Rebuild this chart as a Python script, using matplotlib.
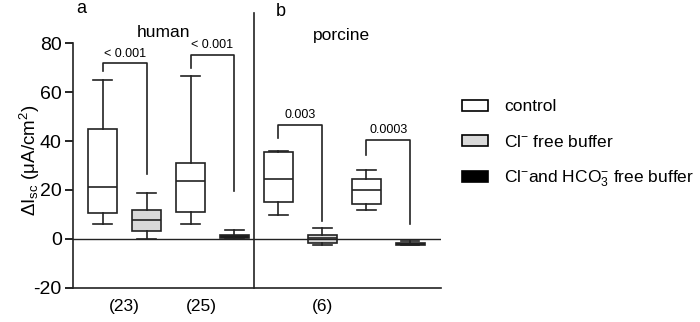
import matplotlib
matplotlib.use('Agg')
import matplotlib.pyplot as plt
from matplotlib.patches import Patch

plt.rcParams['font.family'] = ['Liberation Sans', 'DejaVu Sans']
plt.rcParams['mathtext.default'] = 'regular'
plt.rcParams['axes.unicode_minus'] = False

# box statistics: (whislo, q1, med, q3, whishi)
positions = [1, 2, 3, 4, 5, 6, 7, 8]
whislo = [6.1, 0.1, 6.2, 0.0, 9.9, -2.6, 12.0, -2.6]
q1 = [10.7, 3.3, 11.0, 0.3, 15.2, -1.5, 14.2, -2.4]
med = [21.2, 7.8, 23.5, 1.0, 24.6, 0.2, 20.0, -2.0]
q3 = [44.8, 12.0, 31.2, 1.6, 35.4, 1.6, 24.4, -1.6]
whishi = [64.8, 18.9, 66.7, 3.8, 35.9, 4.6, 28.2, -0.9]
colors = ['white', '#d9d9d9', 'white', 'black', 'white', '#d9d9d9', 'white', 'black']

# significance brackets: left x, right x, left leg bottom, top, right leg bottom, label
brackets = [
    (1, 2, 68.6, 71.7, 26.5, '< 0.001'),
    (3, 4, 69.7, 75.1, 19.7, '< 0.001'),
    (5, 6, 41.2, 46.5, 7.5, '0.003'),
    (7, 8, 34.3, 40.4, 6.1, '0.0003'),
]

counts = ['(23)', '(25)', '(6)']
count_x = [1.5, 3.25, 6.0]

legend_labels = ['control', 'Cl$^{-}$ free buffer', 'Cl$^{-}$and HCO$_{3}^{-}$ free buffer']
legend_colors = ['white', '#d9d9d9', 'black']

fig = plt.figure(figsize=(7, 3.22), dpi=100)
ax = fig.add_axes([0.104, 0.106, 0.526, 0.760])

stats = []
for i in range(len(positions)):
    stats.append({'whislo': whislo[i], 'q1': q1[i], 'med': med[i],
                  'q3': q3[i], 'whishi': whishi[i], 'fliers': []})

bp = ax.bxp(stats, positions=positions, widths=0.65, patch_artist=True,
            showfliers=False,
            boxprops=dict(linewidth=1.2, edgecolor='#222222'),
            whiskerprops=dict(linewidth=1.2, color='#222222'),
            capprops=dict(linewidth=1.2, color='#222222'),
            medianprops=dict(linewidth=1.2, color='#222222'),
            capwidths=0.42)
for patch, c in zip(bp['boxes'], colors):
    patch.set_facecolor(c)

for xl, xr, yl, yt, yr, lab in brackets:
    ax.plot([xl, xl, xr, xr], [yl, yt, yt, yr], color='#222222', lw=1.2)
    ax.text((xl + xr) / 2, yt + 1.5, lab, ha='center', va='bottom', fontsize=9)

ax.axhline(0, color='#222222', lw=1.0)
ax.plot([4.45, 4.45], [-20, 92.5], color='#222222', lw=1.2, clip_on=False)

ax.set_xlim(0.32, 8.7)
ax.set_ylim(-20, 80)
ax.set_yticks([-20, 0, 20, 40, 60, 80])
ax.set_xticks([])
ax.tick_params(axis='y', labelsize=14, length=6, width=1.2, direction='out', pad=2)
for s in ['top', 'right']:
    ax.spines[s].set_visible(False)
for s in ['left', 'bottom']:
    ax.spines[s].set_linewidth(1.2)
    ax.spines[s].set_color('#222222')

ax.set_ylabel(r'$\Delta$I$_{sc}$ ($\mu$A/cm$^{2}$)', fontsize=13.5, va='center')
ax.yaxis.set_label_coords(-0.117, 0.52)

for x, t in zip(count_x, counts):
    ax.text(x, -24.5, t, ha='center', va='top', fontsize=12.5, clip_on=False)

ax.text(0.4, 94, 'a', fontsize=13, va='center', clip_on=False)
ax.text(2.38, 84.5, 'human', fontsize=12.5, ha='center', va='center', clip_on=False)
ax.text(4.95, 93, 'b', fontsize=13, va='center', clip_on=False)
ax.text(6.43, 83, 'porcine', fontsize=12.5, ha='center', va='center', clip_on=False)

handles = [Patch(facecolor=c, edgecolor='black', linewidth=1.2) for c in legend_colors]
fig.legend(handles, legend_labels, loc='center left', bbox_to_anchor=(0.638, 0.552),
           frameon=False, fontsize=12.5, handlelength=1.5, handleheight=0.6,
           labelspacing=1.1, handletextpad=0.9)

fig.savefig('out.png', dpi=100)
